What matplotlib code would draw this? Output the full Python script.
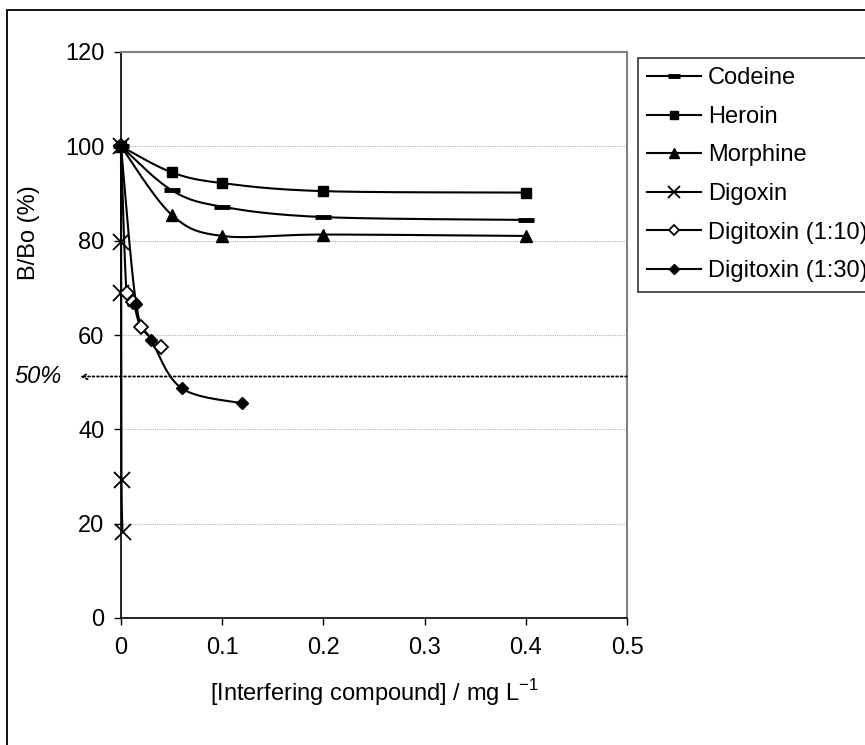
import numpy as np
import matplotlib
matplotlib.use('Agg')
import matplotlib.pyplot as plt
from matplotlib.lines import Line2D
from matplotlib.patches import Rectangle

plt.rcParams['font.family'] = ['Liberation Sans', 'DejaVu Sans']

# data
conc_opiates = [0, 0.05, 0.1, 0.2, 0.4]
codeine = [100, 90.7, 87.2, 85.0, 84.4]
heroin = [100, 94.5, 92.2, 90.5, 90.2]
morphine = [100, 85.5, 81.0, 81.3, 81.0]
conc_digoxin = [0, 0.0001, 0.0002, 0.0005, 0.0015]
digoxin = [100, 79.8, 68.8, 29.3, 18.3]
conc_digitoxin_10 = [0, 0.0055, 0.012, 0.02, 0.04]
digitoxin_10 = [100, 68.8, 67.0, 61.6, 57.4]
conc_digitoxin_30 = [0, 0.015, 0.03, 0.06, 0.12]
digitoxin_30 = [100, 66.5, 59.0, 48.7, 45.5]

x_ticks = [0, 0.1, 0.2, 0.3, 0.4, 0.5]
x_ticklabels = ['0', '0.1', '0.2', '0.3', '0.4', '0.5']
y_ticks = [0, 20, 40, 60, 80, 100, 120]
half_line = 51.2

W, H = 865, 745
FS = 17


def smooth(x, y, n=40):
    """Excel-like smoothed curve (Bezier through the points), done in plot pixel space"""
    sx, sy = 506 / 0.5, 566 / 120
    p = np.column_stack([np.asarray(x, float) * sx, np.asarray(y, float) * sy])
    p = np.vstack([p[0], p, p[-1]])
    t = np.linspace(0, 1, n)[:, None]
    segs = []
    for i in range(1, len(p) - 2):
        b0, b3 = p[i], p[i + 1]
        b1 = p[i] + (p[i + 1] - p[i - 1]) / 6
        b2 = p[i + 1] - (p[i + 2] - p[i]) / 6
        segs.append((1 - t) ** 3 * b0 + 3 * (1 - t) ** 2 * t * b1
                    + 3 * (1 - t) * t ** 2 * b2 + t ** 3 * b3)
    pts = np.vstack(segs)
    return pts[:, 0] / sx, pts[:, 1] / sy


fig = plt.figure(figsize=(W / 100, H / 100), dpi=100)
ax = fig.add_axes([121 / W, 1 - 618 / H, 506 / W, 566 / H])

series = [
    ('Codeine', conc_opiates, codeine, dict(marker='_', ms=11.5, mew=3.5, mfc='black')),
    ('Heroin', conc_opiates, heroin, dict(marker='s', ms=7.5, mfc='black')),
    ('Morphine', conc_opiates, morphine, dict(marker='^', ms=9, mfc='black')),
    ('Digoxin', conc_digoxin, digoxin, dict(marker='x', ms=11, mew=1.3)),
    ('Digitoxin (1:10)', conc_digitoxin_10, digitoxin_10, dict(marker='D', ms=7, mfc='white', mew=1.3)),
    ('Digitoxin (1:30)', conc_digitoxin_30, digitoxin_30, dict(marker='D', ms=6.5, mfc='black')),
]

handles = []
for name, xs, ys, mk in series:
    cx, cy = smooth(xs, ys)
    ax.plot(cx, cy, color='black', lw=1.5, zorder=3, clip_on=False)
    ax.plot(xs, ys, ls='none', color='black', mec='black', zorder=4, clip_on=False, **mk)
    leg_mk = dict(mk)
    leg_mk['ms'] = mk['ms'] * 0.8
    handles.append(Line2D([], [], color='black', lw=1.5, mec='black', label=name, **leg_mk))

ax.set_xlim(0, 0.5)
ax.set_ylim(0, 120)
ax.set_xticks(x_ticks)
ax.set_xticklabels(x_ticklabels)
ax.set_yticks(y_ticks)
ax.tick_params(direction='out', length=5, width=1, labelsize=FS, color='black')
ax.tick_params(axis='x', pad=9)
ax.tick_params(axis='y', pad=7)
ax.grid(axis='y', color='#b4b4b4', lw=0.8, ls=(0, (1, 1)))
ax.set_axisbelow(True)
for s in ['left', 'bottom']:
    ax.spines[s].set_color('black')
    ax.spines[s].set_linewidth(1.2)
for s in ['top', 'right']:
    ax.spines[s].set_color('#808080')
    ax.spines[s].set_linewidth(1.5)

ax.set_xlabel(r'[Interfering compound] / mg L$^{\mathregular{-1}}$', fontsize=FS, labelpad=13)
ax.set_ylabel('B/Bo (%)', fontsize=FS)
ax.yaxis.set_label_coords(-0.16, 0.68)

# 50% reference line with arrow
trans = ax.get_yaxis_transform()
ax.annotate('', xy=(-0.081, half_line), xycoords=trans,
            xytext=(1.0, half_line), textcoords=trans,
            arrowprops=dict(arrowstyle='->', ls=(0, (1, 1.5)), lw=1.3, color='black',
                            shrinkA=0, shrinkB=0))
ax.text(-0.117, half_line, '50%', transform=trans, ha='right', va='center',
        fontsize=FS, style='italic')

# the reference legend runs past the right edge of the picture
leg = fig.legend(handles=handles, loc='upper left', bbox_to_anchor=(638 / W, 1 - 58 / H),
                 fontsize=FS, frameon=True, fancybox=False, borderaxespad=0,
                 borderpad=0.4, handlelength=2.25, handletextpad=0.3, labelspacing=0.7)
leg.get_frame().set_edgecolor('black')
leg.get_frame().set_linewidth(1.2)

# outer chart border (runs off the right and bottom edges)
fig.patches.append(Rectangle((7 / W, -0.1), 1.2, 1 - 10 / H + 0.1, transform=fig.transFigure,
                             fill=False, ec='black', lw=1.3))

fig.savefig('out.png', dpi=100, facecolor='white')
